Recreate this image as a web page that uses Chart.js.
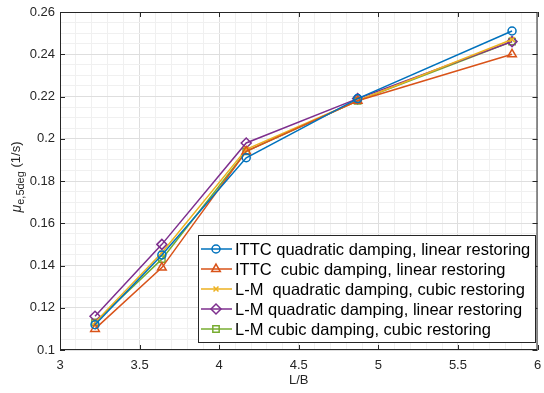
<!DOCTYPE html>
<html>
<head>
<meta charset="utf-8">
<script src="https://cdn.jsdelivr.net/npm/chart.js@4/dist/chart.umd.min.js"></script>
<style>
  html, body { margin: 0; padding: 0; background: #fff; }
  #chart { display: block; }
</style>
</head>
<body>
<canvas id="chart" width="544" height="393"></canvas>
<script>
// L/B ratios of the hulls (x axis)
var lbRatios = [3.22, 3.64, 4.17, 4.87, 5.84];

// equivalent damping at 5 deg, one array per method
var ittcQuadLinear = [0.112, 0.145, 0.191, 0.219, 0.251];
var ittcCubicLinear = [0.110, 0.139, 0.194, 0.218, 0.240];
var lmQuadCubic = [0.113, 0.146, 0.195, 0.218, 0.247];
var lmQuadLinear = [0.116, 0.150, 0.198, 0.219, 0.246];
var lmCubicCubic = [0.113, 0.143, 0.194, 0.218, 0.246];

var seriesLabels = [
  'ITTC quadratic damping, linear restoring',
  'ITTC  cubic damping, linear restoring',
  'L-M  quadratic damping, cubic restoring',
  'L-M quadratic damping, linear restoring',
  'L-M cubic damping, cubic restoring'
];

var xTickLabels = ['3', '3.5', '4', '4.5', '5', '5.5', '6'];
var yTickLabels = ['0.1', '0.12', '0.14', '0.16', '0.18', '0.2', '0.22', '0.24', '0.26'];

var FONT = '"Liberation Sans", Arial, sans-serif';
var AXIS_COLOR = '#262626';

function toPoints(values) {
  return values.map(function (v, i) { return { x: lbRatios[i], y: v }; });
}

function makeSet(label, values, color, style, radius) {
  return {
    label: label,
    data: toPoints(values),
    borderColor: color,
    backgroundColor: color,
    borderWidth: 1.5,
    pointStyle: style,
    pointRadius: radius,
    pointHoverRadius: radius,
    pointBorderColor: color,
    pointBackgroundColor: 'rgba(0,0,0,0)',
    pointBorderWidth: 1.5,
    tension: 0
  };
}

function isMajor(v, step) {
  var r = v / step;
  return Math.abs(r - Math.round(r)) < 1e-6;
}

// frame with inward ticks, y title with subscript, legend inside the axes
var decorPlugin = {
  id: 'decor',
  afterDraw: function (chart) {
    var ctx = chart.ctx;
    var area = chart.chartArea;
    var xs = chart.scales.x;
    var ys = chart.scales.y;

    ctx.save();
    ctx.strokeStyle = AXIS_COLOR;
    ctx.lineWidth = 1;
    ctx.strokeRect(area.left + 0.5, area.top + 0.5, area.right - area.left - 1, area.bottom - area.top - 1);

    ctx.beginPath();
    xTickLabels.forEach(function (t) {
      var px = Math.round(xs.getPixelForValue(parseFloat(t))) + 0.5;
      ctx.moveTo(px, area.bottom);
      ctx.lineTo(px, area.bottom - 5);
      ctx.moveTo(px, area.top);
      ctx.lineTo(px, area.top + 5);
    });
    yTickLabels.forEach(function (t) {
      var py = Math.round(ys.getPixelForValue(parseFloat(t))) + 0.5;
      ctx.moveTo(area.left, py);
      ctx.lineTo(area.left + 5, py);
      ctx.moveTo(area.right, py);
      ctx.lineTo(area.right - 5, py);
    });
    ctx.stroke();

    // y axis title: mu_{e,5deg} (1/s)
    ctx.translate(17, 177);
    ctx.rotate(-Math.PI / 2);
    ctx.fillStyle = AXIS_COLOR;
    ctx.textBaseline = 'middle';
    ctx.textAlign = 'left';
    var fMu = 'italic 14px ' + FONT;
    var fSub = '11px ' + FONT;
    var fMain = '13px ' + FONT;
    ctx.font = fMu;
    var wMu = ctx.measureText('\u03bc').width;
    ctx.font = fSub;
    var wSub = ctx.measureText('e,5deg').width;
    ctx.font = fMain;
    var wMain = ctx.measureText(' (1/s)').width;
    var x0 = -(wMu + wSub + wMain) / 2;
    ctx.font = fMu;
    ctx.fillText('\u03bc', x0, 0);
    ctx.font = fSub;
    ctx.fillText('e,5deg', x0 + wMu, 4);
    ctx.font = fMain;
    ctx.fillText(' (1/s)', x0 + wMu + wSub, -1);
    ctx.restore();

    // legend box
    var lx = 198, ly = 235, lw = 338, lh = 108;
    ctx.save();
    ctx.fillStyle = '#ffffff';
    ctx.fillRect(lx, ly, lw, lh);
    ctx.strokeStyle = AXIS_COLOR;
    ctx.lineWidth = 1;
    ctx.strokeRect(lx + 0.5, ly + 0.5, lw - 1, lh - 1);
    ctx.font = '16.5px ' + FONT;
    ctx.textBaseline = 'middle';
    chart.data.datasets.forEach(function (ds, i) {
      var cy = ly + 14 + i * 20;
      ctx.strokeStyle = ds.borderColor;
      ctx.lineWidth = 1.5;
      ctx.beginPath();
      ctx.moveTo(lx + 3, cy);
      ctx.lineTo(lx + 34, cy);
      ctx.stroke();
      ctx.fillStyle = 'rgba(0,0,0,0)';
      Chart.helpers.drawPoint(ctx, {
        pointStyle: ds.pointStyle,
        radius: ds.pointRadius,
        borderWidth: 1.5,
        rotation: 0
      }, lx + 18, cy);
      ctx.fillStyle = '#000000';
      ctx.fillText(ds.label, lx + 37, cy + 1);
    });
    ctx.restore();
  }
};

var ctx = document.getElementById('chart');
new Chart(ctx, {
  type: 'line',
  data: {
    datasets: [
      makeSet(seriesLabels[0], ittcQuadLinear, '#0072BD', 'circle', 4),
      makeSet(seriesLabels[1], ittcCubicLinear, '#D95319', 'triangle', 5),
      makeSet(seriesLabels[2], lmQuadCubic, '#EDB120', 'crossRot', 3.5),
      makeSet(seriesLabels[3], lmQuadLinear, '#7E2F8E', 'rectRot', 5),
      makeSet(seriesLabels[4], lmCubicCubic, '#77AC30', 'rect', 4.5)
    ]
  },
  options: {
    responsive: false,
    devicePixelRatio: 1,
    animation: false,
    layout: { padding: { top: 12, right: 1, left: 0, bottom: 0 } },
    plugins: {
      legend: { display: false },
      tooltip: { enabled: false }
    },
    scales: {
      x: {
        type: 'linear',
        min: 3,
        max: 6,
        afterFit: function (scale) {
          scale.height = 43;
          scale.paddingLeft = 0;
          scale.paddingRight = 0;
        },
        border: { display: false },
        grid: {
          drawTicks: false,
          color: function (c) { return isMajor(c.tick.value, 0.5) ? '#dedede' : '#f0f0f0'; },
          lineWidth: 1
        },
        ticks: {
          stepSize: 0.1,
          autoSkip: false,
          maxRotation: 0,
          padding: 8,
          color: AXIS_COLOR,
          font: { family: FONT, size: 13 },
          callback: function (v) {
            if (!isMajor(v, 0.5)) return '';
            var s = String(Math.round(v * 10) / 10);
            return xTickLabels.indexOf(s) >= 0 ? s : '';
          }
        },
        title: {
          display: true,
          text: 'L/B',
          color: AXIS_COLOR,
          font: { family: FONT, size: 13 },
          padding: { top: 0, bottom: 5 }
        }
      },
      y: {
        min: 0.1,
        max: 0.26,
        afterFit: function (scale) {
          scale.width = 60;
          scale.paddingTop = 0;
          scale.paddingBottom = 0;
        },
        border: { display: false },
        grid: {
          drawTicks: false,
          color: function (c) { return isMajor(c.tick.value, 0.02) ? '#dedede' : '#f0f0f0'; },
          lineWidth: 1
        },
        ticks: {
          stepSize: 0.005,
          autoSkip: false,
          padding: 5,
          color: AXIS_COLOR,
          font: { family: FONT, size: 13 },
          callback: function (v) {
            if (!isMajor(v, 0.02)) return '';
            var s = String(Math.round(v * 100) / 100);
            return yTickLabels.indexOf(s) >= 0 ? s : '';
          }
        }
      }
    }
  },
  plugins: [decorPlugin]
});
</script>
</body>
</html>
